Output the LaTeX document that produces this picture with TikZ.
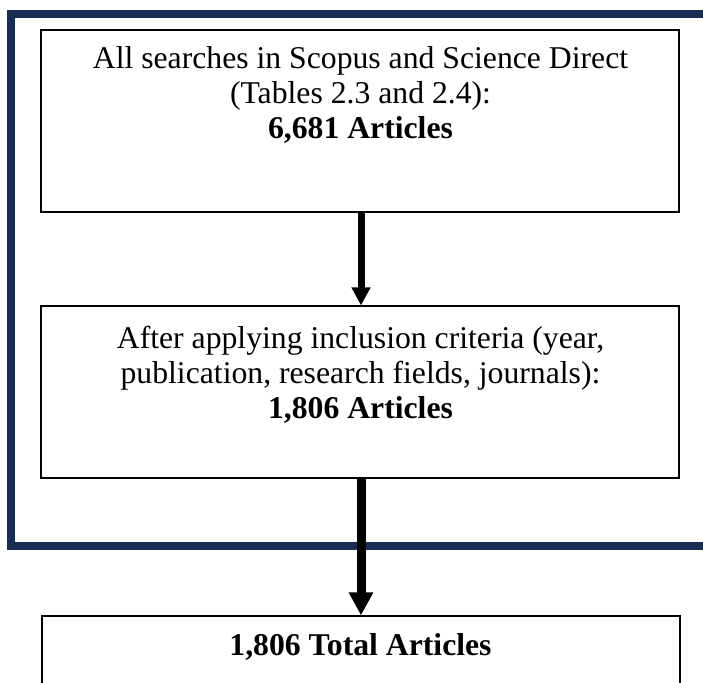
\documentclass[tikz,border=0pt]{standalone}
\usepackage{fontspec}
\setmainfont{Liberation Serif}
\usetikzlibrary{arrows.meta}
\definecolor{framenavy}{RGB}{24,45,82}
\begin{document}
\begin{tikzpicture}[x=1pt,y=-1pt,
  stagebox/.style={draw=black, line width=1.2pt, inner sep=0pt, minimum width=638pt},
  stagetext/.style={anchor=north, inner sep=0pt, align=center,
    font=\fontsize{31.7}{34.8}\selectfont},
  flowthin/.style={-{Triangle[width=18pt,length=18pt]}, line width=7pt},
  flowthick/.style={-{Triangle[width=23pt,length=23pt]}, line width=9pt},
  frameline/.style={draw=framenavy, line width=8pt}]
\useasboundingbox (0,0) rectangle (703,682);
\clip (0,0) rectangle (703,682);

% open navy frame around the screening stages
\coordinate (ftop) at (720,14);
\coordinate (fbot) at (720,545.5);
\draw[frameline] (ftop) -| (11,545.5) -- (fbot);

% stage boxes
\node[stagebox, minimum height=182pt] (box1) at (360,121) {};
\node[stagebox, minimum height=172pt] (box2) at (360,392) {};
\node[stagebox, minimum height=84pt]  (box3) at (361,658) {};

% stage texts
\node[stagetext] (t1) at (360.5,46.4)
  {All searches in Scopus and Science Direct\\(Tables 2.3 and 2.4):\\\textbf{6,681 Articles}};
\node[stagetext] (t2) at (360.5,326.4)
  {After applying inclusion criteria (year,\\publication, research fields, journals):\\\textbf{1,806 Articles}};
\node[stagetext] (t3) at (360.5,633.6) {\textbf{1,806 Total Articles}};

% flow arrows
\draw[flowthin] ([xshift=1pt]box1.south) -- ([xshift=1pt]box2.north);
\draw[flowthick] ([xshift=1pt]box2.south) -- (box3.north);
\end{tikzpicture}
\end{document}
